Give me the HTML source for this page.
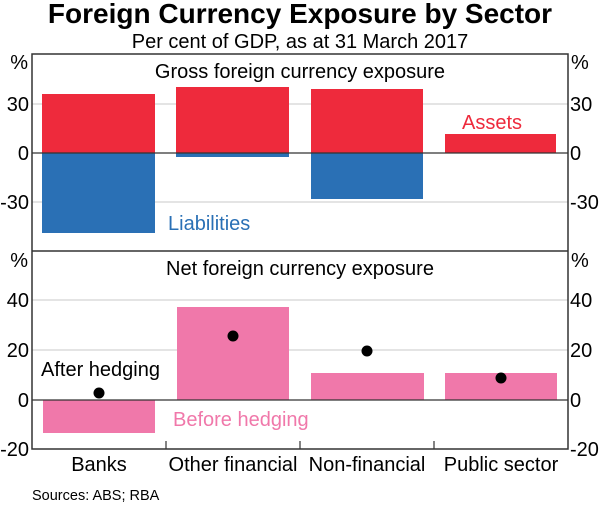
<!DOCTYPE html>
<html><head><style>body{margin:0;background:#fff}svg{display:block}</style></head><body>
<svg width="600" height="507" xmlns="http://www.w3.org/2000/svg" font-family="Liberation Sans, Arial, sans-serif">
<text x="300" y="23" font-size="28" font-weight="bold" text-anchor="middle">Foreign Currency Exposure by Sector</text>
<text x="300" y="48" font-size="20" text-anchor="middle">Per cent of GDP, as at 31 March 2017</text>
<g stroke="#c8c8c8" stroke-width="1">
<line x1="32" x2="568" y1="104" y2="104"/><line x1="32" x2="568" y1="202" y2="202"/>
<line x1="32" x2="568" y1="300" y2="300"/><line x1="32" x2="568" y1="350" y2="350"/>
</g>
<g fill="#ee2a3c">
<rect x="42" y="94" width="113" height="59"/><rect x="176" y="87" width="113" height="66"/>
<rect x="311" y="89" width="112" height="64"/><rect x="445" y="134" width="111" height="19"/>
</g>
<g fill="#2a70b5">
<rect x="42" y="153" width="113" height="80"/><rect x="176" y="153" width="113" height="4"/>
<rect x="311" y="153" width="112" height="46"/>
</g>
<g fill="#f078aa">
<rect x="43" y="400" width="112" height="33"/><rect x="177" y="307" width="112" height="93"/>
<rect x="311" y="373" width="113" height="27"/><rect x="445" y="373" width="112" height="27"/>
</g>
<g stroke="#333" stroke-width="1.2">
<line x1="32" x2="568" y1="153" y2="153"/><line x1="32" x2="568" y1="400" y2="400"/>
</g>
<g fill="#000"><circle cx="99" cy="393" r="5.5"/><circle cx="233" cy="336" r="5.5"/><circle cx="367" cy="351" r="5.5"/><circle cx="501" cy="378" r="5.5"/></g>
<g fill="none" stroke="#333" stroke-width="1.5">
<rect x="32" y="54" width="536" height="395"/><line x1="32" x2="568" y1="251" y2="251"/>
</g>
<g stroke="#333" stroke-width="1.2"><line x1="166" x2="166" y1="441" y2="449"/><line x1="300" x2="300" y1="441" y2="449"/><line x1="434" x2="434" y1="441" y2="449"/></g>
<g font-size="20">
<text x="300" y="78" text-anchor="middle">Gross foreign currency exposure</text>
<text x="300" y="275" text-anchor="middle">Net foreign currency exposure</text>
<text x="168" y="230" fill="#2a70b5">Liabilities</text>
<text x="462" y="129" fill="#ee2a3c">Assets</text>
<text x="41" y="376">After hedging</text>
<text x="173" y="426" fill="#f078aa">Before hedging</text>
<g text-anchor="end">
<text x="28" y="69">%</text><text x="29" y="111">30</text><text x="29" y="160">0</text><text x="29" y="209">-30</text>
<text x="28" y="267">%</text><text x="29" y="307">40</text><text x="29" y="357">20</text><text x="29" y="407">0</text><text x="29" y="456">-20</text>
</g>
<g>
<text x="571" y="69">%</text><text x="570" y="111">30</text><text x="570" y="160">0</text><text x="570" y="209">-30</text>
<text x="571" y="267">%</text><text x="570" y="307">40</text><text x="570" y="357">20</text><text x="570" y="407">0</text><text x="570" y="456">-20</text>
</g>
<g text-anchor="middle">
<text x="99" y="471">Banks</text><text x="233" y="471">Other financial</text><text x="367" y="471">Non-financial</text><text x="501" y="471">Public sector</text>
</g>
</g>
<text x="32" y="500" font-size="14.5">Sources: ABS; RBA</text>
</svg>
</body></html>
